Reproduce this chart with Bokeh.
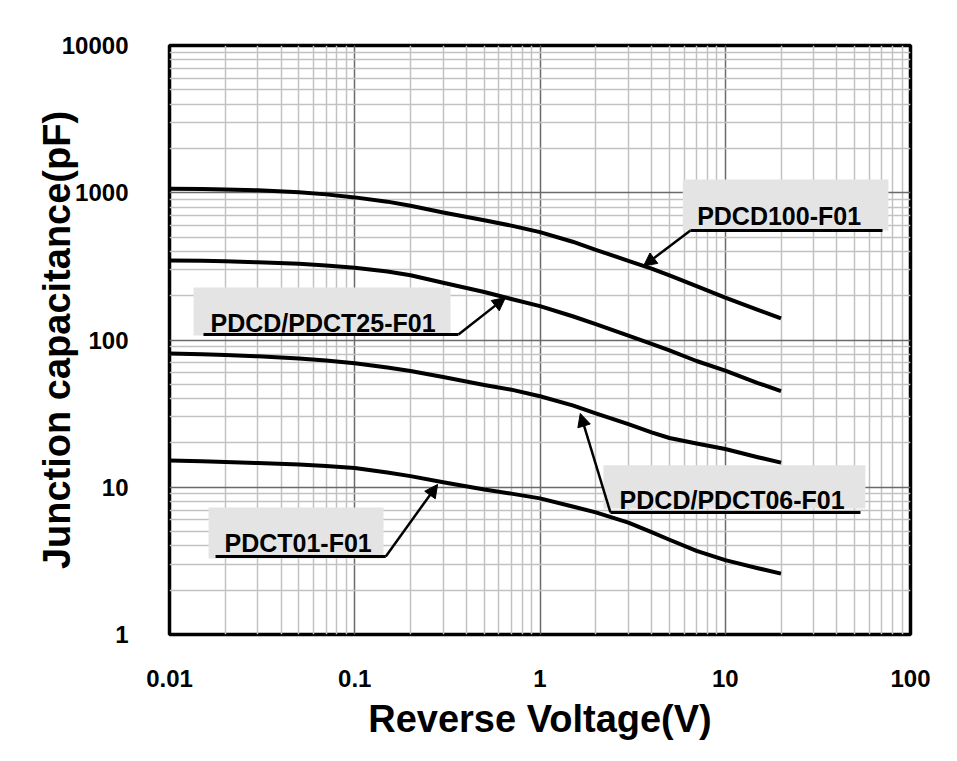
from bokeh.plotting import figure
from bokeh.models import (FixedTicker, CustomJSTickFormatter, Label, Arrow, NormalHead)
from bokeh.embed import file_html
from bokeh.resources import INLINE

# ---- data ----
voltage = [0.01, 0.015, 0.02, 0.03, 0.05, 0.07, 0.1, 0.15, 0.2, 0.3, 0.5, 0.7,
           1, 1.5, 2, 3, 4, 5, 7, 10, 15, 20]
pdcd100 = [1065, 1060, 1052, 1038, 1008, 975, 930, 870, 815, 735, 650, 598,
           540, 465, 410, 345, 305, 275, 232, 194, 160, 140]
pdcd25 = [347, 345, 342, 337, 329, 321, 310, 292, 275, 245, 212, 190,
          170, 145, 128, 107, 94, 85, 72, 62, 51, 45]
pdcd06 = [81, 80, 79, 77.5, 75, 72.5, 69.5, 65, 61.5, 56, 49.5, 46,
          41.5, 36, 31.8, 26.8, 23.6, 21.6, 19.8, 18.2, 16, 14.7]
pdct01 = [15.2, 15.0, 14.85, 14.6, 14.25, 13.95, 13.5, 12.6, 11.9, 10.8, 9.65, 9.05,
          8.4, 7.4, 6.75, 5.75, 4.95, 4.4, 3.7, 3.2, 2.82, 2.59]

x_ticks = [0.01, 0.1, 1, 10, 100]
y_ticks = [1, 10, 100, 1000, 10000]
x_minor = [d * m for d in [0.01, 0.1, 1, 10] for m in range(2, 10)]
y_minor = [d * m for d in [1, 10, 100, 1000] for m in range(2, 10)]

# label annotations: text, box (l, r, b, t), text anchor (x, y), underline (x0, x1, y), arrow tip (x, y), arrow start side
labels = [
    ("PDCD100-F01", (5.9, 76.0, 554, 1230), (7.05, 700), (6.49, 70.6, 554), (3.62, 318), "left"),
    ("PDCD/PDCT25-F01", (0.01348, 0.329, 107.5, 227), (0.01665, 131), (0.01526, 0.363, 109), (0.651, 194), "right"),
    ("PDCT01-F01", (0.01625, 0.143, 3.28, 7.29), (0.0198, 4.2), (0.01772, 0.147, 3.39), (0.28, 10.45), "right"),
    ("PDCD/PDCT06-F01", (2.20, 57.1, 7.18, 14.1), (2.69, 8.2), (2.40, 53.7, 6.74), (1.65, 31.7), "left"),
]

FONT = "Liberation Sans"

p = figure(width=940, height=745, x_axis_type="log", y_axis_type="log",
           x_range=(0.01, 100), y_range=(1, 10000),
           output_backend="svg", toolbar_location=None,
           min_border_left=169, min_border_right=30, min_border_top=45, min_border_bottom=111)

p.background_fill_color = "white"
p.border_fill_color = "white"
p.outline_line_color = "black"
p.outline_line_width = 3.5

fmt = CustomJSTickFormatter(code="return String(tick);")
for ax, tks, mn in ((p.xaxis[0], x_ticks, x_minor), (p.yaxis[0], y_ticks, y_minor)):
    ax.ticker = FixedTicker(ticks=tks, minor_ticks=mn)
    ax.formatter = fmt
    ax.axis_line_color = None
    ax.major_tick_line_color = None
    ax.minor_tick_line_color = None
    ax.major_label_text_font = FONT
    ax.major_label_text_font_style = "bold"
    ax.major_label_text_font_size = "24px"
    ax.major_label_text_color = "black"
    ax.axis_label_text_font = FONT
    ax.axis_label_text_font_style = "bold"
    ax.axis_label_text_font_size = "38px"
    ax.axis_label_text_color = "black"

p.xaxis.axis_label = "Reverse Voltage(V)"
p.yaxis.axis_label = "Junction capacitance(pF)"
p.xaxis.major_label_standoff = 29
p.xaxis.axis_label_standoff = 8
p.yaxis.major_label_standoff = 35
p.yaxis.axis_label_standoff = -19

for g, tks, mn in ((p.xgrid[0], x_ticks, x_minor), (p.ygrid[0], y_ticks, y_minor)):
    g.ticker = FixedTicker(ticks=tks, minor_ticks=mn)
    g.grid_line_color = "#6a6a6a"
    g.grid_line_width = 1.5
    g.minor_grid_line_color = "#c2c2c2"
    g.minor_grid_line_width = 1.5

# label boxes
for text, box, anchor, ul, tip, side in labels:
    l, r, b, t = box
    p.quad(left=l, right=r, bottom=b, top=t, fill_color="#e4e4e4", line_color=None)

# curves
for series in (pdcd100, pdcd25, pdcd06, pdct01):
    p.line(voltage, series, line_color="black", line_width=4, line_join="round")

# texts, underlines, arrows
for text, box, anchor, ul, tip, side in labels:
    p.add_layout(Label(x=anchor[0], y=anchor[1], text=text, text_font=FONT,
                       text_font_style="bold", text_font_size="25px",
                       text_color="black", text_baseline="alphabetic"))
    x0, x1, yu = ul
    p.segment(x0=[x0], y0=[yu], x1=[x1], y1=[yu], line_color="black", line_width=3)
    sx = x0 if side == "left" else x1
    p.add_layout(Arrow(end=NormalHead(size=13, fill_color="black", line_color="black"),
                       x_start=sx, y_start=yu, x_end=tip[0], y_end=tip[1],
                       line_color="black", line_width=2.5))

open("out.html", "w").write(file_html(p, INLINE))
